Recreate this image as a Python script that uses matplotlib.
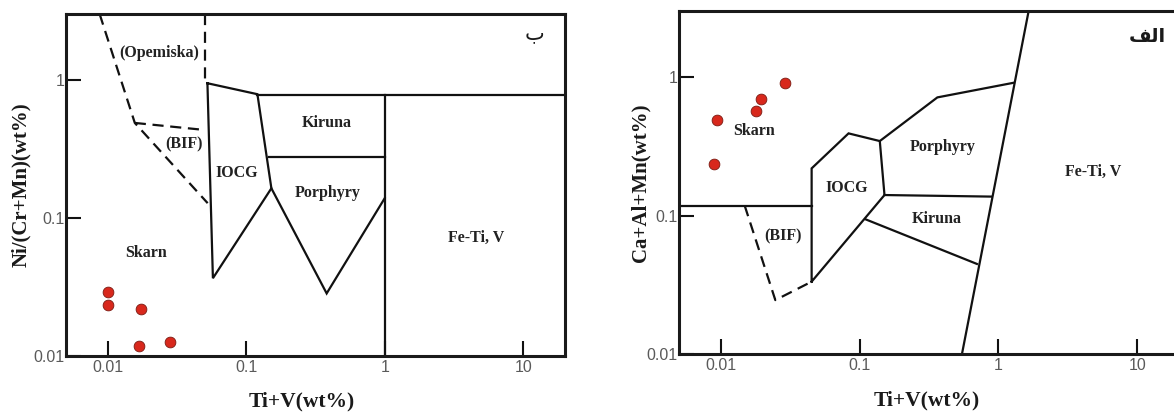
import matplotlib
matplotlib.use('Agg')
import matplotlib.pyplot as plt

# sample points
b_pts_x = [0.0100, 0.0100, 0.0173, 0.0168, 0.0281]
b_pts_y = [0.0292, 0.0233, 0.0218, 0.0119, 0.0126]
a_pts_x = [0.0290, 0.0196, 0.0180, 0.00935, 0.0089]
a_pts_y = [0.90, 0.70, 0.571, 0.49, 0.235]

ticks = [0.01, 0.1, 1, 10]
xtick_labels = ['0.01', '0.1', '1', '10']
yticks = [0.01, 0.1, 1]
ytick_labels = ['0.01', '0.1', '1']

# panel b: Ni/(Cr+Mn) diagram boundaries
b_solid = [
    ([0.0525, 0.1205, 0.152, 0.0575, 0.0525], [0.946, 0.788, 0.164, 0.0366, 0.946]),
    ([0.1205, 20.0], [0.78, 0.78]),
    ([0.146, 1.0], [0.275, 0.275]),
    ([1.0, 1.0], [0.78, 0.01]),
    ([0.152, 0.381, 1.0], [0.164, 0.0284, 0.139]),
]
b_dashed = [
    ([0.00875, 0.0157, 0.0527], [3.0, 0.488, 0.128]),
    ([0.0157, 0.0501], [0.488, 0.434]),
    ([0.0501, 0.0501], [3.0, 0.95]),
]
b_labels = [
    ('(Opemiska)', 0.0237, 1.57),
    ('(BIF)', 0.0354, 0.344),
    ('IOCG', 0.0849, 0.211),
    ('Kiruna', 0.379, 0.491),
    ('Porphyry', 0.385, 0.151),
    ('Skarn', 0.0188, 0.0555),
    ('Fe-Ti, V', 4.59, 0.0713),
]

# panel alef: Ca+Al+Mn diagram boundaries
a_solid = [
    ([0.001, 0.0451], [0.118, 0.118]),
    ([0.0451, 0.0451, 0.0832, 0.1397, 0.151, 0.0451], [0.0333, 0.219, 0.392, 0.345, 0.1406, 0.0333]),
    ([0.151, 0.885], [0.1406, 0.137]),
    ([0.110, 0.70], [0.094, 0.0447]),
    ([0.1397, 0.363, 1.29], [0.345, 0.713, 0.91]),
    ([1.65, 0.546], [3.0, 0.01]),
]
a_dashed = [
    ([0.01485, 0.0247, 0.0451], [0.118, 0.0245, 0.0333]),
]
a_labels = [
    ('Skarn', 0.01726, 0.408),
    ('IOCG', 0.0802, 0.157),
    ('Porphyry', 0.394, 0.314),
    ('Kiruna', 0.357, 0.0944),
    ('(BIF)', 0.0281, 0.0703),
    ('Fe-Ti, V', 4.82, 0.207),
]

serif = ['Liberation Serif', 'DejaVu Serif']
ink = '#111111'

fig = plt.figure(figsize=(11.74, 4.12), dpi=100)
ax1 = fig.add_axes([0.0562, 0.1359, 0.4250, 0.8300])
ax2 = fig.add_axes([0.5784, 0.1408, 0.4259, 0.8325])


def setup(ax, ylabel, ypad, xlab_pos):
    ax.set_xscale('log')
    ax.set_yscale('log')
    ax.set_xlim(0.005, 20)
    ax.set_ylim(0.01, 3.0)
    ax.set_xticks(ticks)
    ax.set_xticklabels(xtick_labels)
    ax.set_yticks(yticks)
    ax.set_yticklabels(ytick_labels)
    ax.minorticks_off()
    ax.tick_params(direction='in', length=11, width=1.5, color=ink,
                   labelsize=11.5, labelcolor='#5a5a5a', pad=3)
    ax.tick_params(axis='y', pad=1)
    for lab in ax.get_xticklabels() + ax.get_yticklabels():
        lab.set_family(['Liberation Sans', 'DejaVu Sans'])
    for s in ax.spines.values():
        s.set_linewidth(2.2)
        s.set_color('#1a1a1a')
    ax.set_xlabel('Ti+V(wt%)', family=serif, fontweight='bold', fontsize=15.5,
                  color='#1a1a1a')
    ax.xaxis.set_label_coords(xlab_pos, -0.105)
    ax.set_ylabel(ylabel, family=serif, fontweight='bold', fontsize=15,
                  color='#1a1a1a', labelpad=ypad)


setup(ax1, 'Ni/(Cr+Mn)(wt%)', 2, 0.473)
setup(ax2, 'Ca+Al+Mn(wt%)', -2.5, 0.496)

for ax, solid, dashed, labels in [(ax1, b_solid, b_dashed, b_labels),
                                  (ax2, a_solid, a_dashed, a_labels)]:
    for xs, ys in solid:
        ax.plot(xs, ys, color=ink, lw=1.6, solid_joinstyle='miter')
    for xs, ys in dashed:
        ax.plot(xs, ys, color=ink, lw=1.6, ls=(0, (5, 3)))
    for txt, x, y in labels:
        ax.text(x, y, txt, family=serif, fontweight='bold', fontsize=11.5,
                color='#222222', ha='center', va='center')

ax1.scatter(b_pts_x, b_pts_y, s=60, color='#d8281c', edgecolor='#7a1a12',
            linewidth=0.6, zorder=5)
ax2.scatter(a_pts_x, a_pts_y, s=60, color='#d8281c', edgecolor='#7a1a12',
            linewidth=0.6, zorder=5)

# panel letters (Arabic, presentation forms so the glyphs join)
ax1.text(0.94, 0.944, '\ufe8f', transform=ax1.transAxes, family=['DejaVu Sans'],
         fontsize=15, ha='center', va='center', color='#1a1a1a')
ax2.text(16.2, 1.95, '\ufed2\ufedf\ufe8d', family=['DejaVu Sans'], fontweight='bold',
         fontsize=14, ha='right', va='center', color='#1a1a1a')

fig.savefig('out.png', dpi=100, facecolor='white')
